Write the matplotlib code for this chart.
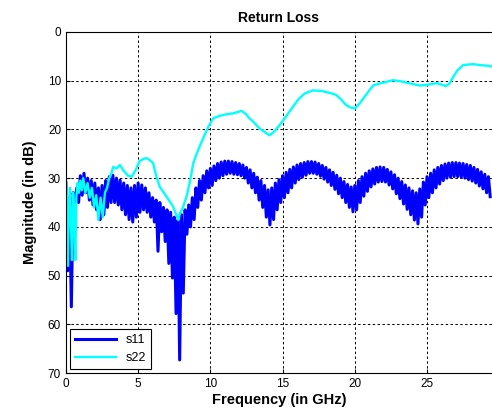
import matplotlib
matplotlib.use("Agg")
import matplotlib.pyplot as plt
import numpy as np

plt.rcParams['font.family'] = ['Liberation Sans', 'DejaVu Sans']

# s11: ripple peaks (top) and troughs (bottom), one pair every 0.25 GHz
s11_top = [31, 34, 33, 32, 29.5, 29, 30, 30.5, 31, 32,
           31.5, 30.5, 29.7, 29.4, 30, 30.4, 31, 31.5, 32, 31.5,
           31, 31.4, 32, 33, 34, 34.5, 35, 36, 36.5, 37,
           38, 38.6, 37.5, 36.5, 35.5, 34, 32, 30.5, 29.5, 28.5,
           28, 27.5, 27, 26.7, 26.5, 26.5, 26.6, 26.8, 27, 27.3,
           27.8, 28.3, 29, 29.8, 30.5, 31.5, 32.4, 32, 31, 30.3,
           29.5, 28.8, 28.2, 27.7, 27.3, 27, 26.8, 26.6, 26.6, 26.7,
           27, 27.4, 27.8, 28.3, 28.8, 29.4, 30, 30.7, 31.3, 31.8,
           31.5, 30.5, 29.7, 29, 28.5, 28.1, 27.8, 27.7, 27.8, 28.2,
           28.7, 29.3, 30, 30.7, 31.4, 32, 32.6, 33, 32.2, 30.8,
           29.7, 29, 28.3, 27.8, 27.4, 27.1, 26.9, 26.8, 26.8, 26.9,
           27, 27.2, 27.4, 27.8, 28.2, 28.7, 29.2, 29.7]
s11_bot = [49, 56.4, 35, 35, 33.5, 33, 34.5, 35.5, 36.5, 38.5,
           37.5, 36, 35, 35, 35.5, 36.5, 37.5, 38.5, 39, 38,
           37, 36.5, 37, 38, 39, 45, 41, 43, 47.5, 50.5,
           57.8, 67.3, 53.6, 41.5, 40, 38.5, 36, 34.5, 33, 32,
           31.5, 30.5, 30, 29.5, 29.2, 29, 29.2, 29.3, 29.5, 30,
           31, 32, 33, 34.5, 36, 38, 39.6, 38.5, 36.5, 35,
           34, 33, 32, 31, 30.3, 29.8, 29.4, 29, 29, 29.2,
           29.6, 30.2, 30.8, 31.5, 32.3, 33.2, 34, 35, 36, 36.9,
           36.5, 35, 33.7, 32.7, 31.8, 31.2, 30.8, 30.7, 30.8, 31.4,
           32.2, 33.2, 34.2, 35.3, 36.4, 37.5, 38.6, 39.4, 38, 35.5,
           34, 33, 32, 31.2, 30.5, 30, 29.8, 29.7, 29.7, 29.8,
           30, 30.3, 30.6, 31, 31.6, 32.2, 33, 33.8]

s22_freq = [0, 0.07, 0.14, 0.2, 0.28, 0.35, 0.42, 0.5, 0.58, 0.65,
            0.72, 0.8, 0.9, 1.0, 1.1, 1.2, 1.35, 1.5, 1.65, 1.8,
            1.95, 2.1, 2.25, 2.4, 2.55, 2.7, 2.85, 3.0, 3.15, 3.27,
            3.5, 3.74, 4.0, 4.3, 4.55, 4.8, 5.1, 5.4, 5.58, 5.8,
            6.03, 6.27, 6.5, 6.97, 7.43, 7.78, 7.9, 8.1, 8.35, 8.6,
            8.81, 9.05, 9.5, 9.85, 10.2, 10.66, 11.1, 11.58, 12.16, 12.45,
            12.7, 13.0, 13.4, 13.8, 14.1, 14.4, 14.8, 15.2, 15.73, 16.1,
            16.54, 17.1, 17.7, 18.27, 18.7, 19.0, 19.4, 19.7, 20.0, 20.3,
            20.6, 21.0, 21.3, 21.96, 22.65, 23.3, 23.9, 24.5, 25.1, 25.65,
            26.0, 26.3, 26.55, 26.8, 27.1, 27.5, 28.2, 28.65, 29.1, 29.5]
s22 = [30, 34, 48, 36, 32, 40, 46.8, 33, 38, 46.8,
       34, 31, 33, 30.5, 32.5, 30, 33, 31, 34, 32,
       36, 33.5, 38.6, 34, 38, 33, 32, 30, 29, 27.7,
       28, 27.3, 28.5, 29.5, 29.7, 28.5, 26.5, 26, 25.9, 26.3,
       26.9, 29.7, 31.8, 33.8, 35.9, 38.6, 37.2, 36, 33.8, 30.5,
       27, 25, 21.8, 19.5, 17.7, 17.2, 16.9, 16.7, 16.2, 16.8,
       17.7, 18.5, 19.8, 20.6, 21.2, 20.5, 19.1, 17.5, 15.3, 13.8,
       12.6, 12.0, 12.1, 12.5, 12.9, 13.7, 15.0, 15.5, 15.7, 14.8,
       13.6, 12.0, 10.9, 10.4, 9.9, 10.2, 10.6, 11.0, 10.8, 10.5,
       10.8, 11.1, 10.6, 9.3, 7.9, 6.8, 6.6, 6.8, 6.9, 7.1]

# interleave peaks and troughs on a 0.125 GHz sampling grid
s11 = np.column_stack([s11_top, s11_bot]).ravel()
s11_freq = np.arange(len(s11)) * 0.125

fig = plt.figure(figsize=(4.92, 4.15), dpi=100)
ax = fig.add_axes([0.134, 0.101, 0.866, 0.822])

ax.plot(s11_freq, s11, color=(0, 0, 1), lw=2.2, label='s11')
ax.plot(s22_freq, s22, color=(0, 1, 1), lw=1.7, label='s22')

ax.set_xlim(0, 29.5)
ax.set_ylim(70, 0)
ax.set_xticks([0, 5, 10, 15, 20, 25])
ax.set_yticks(range(0, 71, 10))
ax.tick_params(direction='in', labelsize=8.5, length=3)
ax.grid(True, color='black', linestyle=(0, (2.5, 2.5)), linewidth=0.7)
ax.spines['right'].set_visible(False)

ax.set_title('Return Loss', fontsize=10, fontweight='bold', pad=7)
ax.set_xlabel('Frequency (in GHz)', fontsize=10.5, fontweight='bold', labelpad=2)
ax.set_ylabel('Magnitude (in dB)', fontsize=10.5, fontweight='bold', labelpad=8)

leg = ax.legend(loc='lower left', fontsize=9, fancybox=False, framealpha=1,
                edgecolor='black', handlelength=3.3, borderaxespad=0.3)
leg.get_frame().set_linewidth(0.8)

fig.savefig('out.png', dpi=100)
